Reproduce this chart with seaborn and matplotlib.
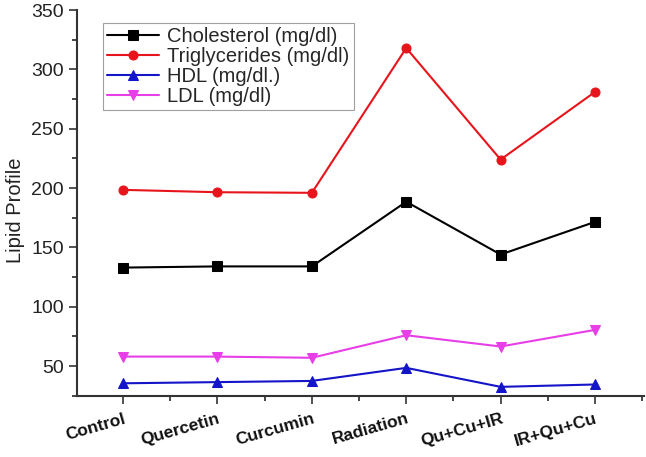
import matplotlib
matplotlib.use("Agg")
import matplotlib.pyplot as plt
from matplotlib.ticker import MultipleLocator
import seaborn as sns
import pandas as pd

groups = ["Control", "Quercetin", "Curcumin", "Radiation", "Qu+Cu+IR", "IR+Qu+Cu"]
cholesterol = [133, 134, 134, 188.5, 144, 171.5]
triglycerides = [198.5, 196.5, 196, 318, 224, 281]
hdl = [35.5, 36.5, 37.5, 48.5, 32.5, 34.5]
ldl = [58, 58, 57, 76, 66.5, 80.5]
series_names = ["Cholesterol (mg/dl)", "Triglycerides (mg/dl)", "HDL (mg/dl.)", "LDL (mg/dl)"]
series_values = [cholesterol, triglycerides, hdl, ldl]

colors = ["#000000", "#e8141b", "#1414c8", "#e83ee8"]
markers = ["s", "o", "^", "v"]

sns.set_style("ticks")
plt.rcParams["font.family"] = ["Liberation Sans", "DejaVu Sans"]

fig = plt.figure(figsize=(6.46, 4.57), dpi=100)
ax = fig.add_axes([0.119, 0.134, 0.878, 0.844])

rows = []
for name, vals in zip(series_names, series_values):
    for i, v in enumerate(vals):
        rows.append({"x": i, "value": v, "series": name})
df = pd.DataFrame(rows)

for name, c, m in zip(series_names, colors, markers):
    sub = df[df["series"] == name]
    sns.lineplot(data=sub, x="x", y="value", ax=ax, color=c, marker=m,
                 markersize=6.5, markeredgecolor=c, linewidth=1.5, label=name)

ax.set_xlim(-0.49, 5.52)
ax.set_ylim(25, 350)
ax.set_xticks(range(len(groups)))
ax.set_xticklabels(groups, rotation=16, fontweight="bold", fontsize=12.5,
                   ha="right", rotation_mode="anchor")
ax.xaxis.set_minor_locator(MultipleLocator(0.5))
ax.yaxis.set_major_locator(MultipleLocator(50))
ax.yaxis.set_minor_locator(MultipleLocator(25))
ax.tick_params(axis="y", labelsize=14, colors="#333333", labelcolor="#222222")
ax.tick_params(axis="x", colors="#333333", labelcolor="#111111", pad=5)
ax.tick_params(which="major", length=6, width=1.2, direction="out")
ax.tick_params(which="minor", length=3.5, width=1.2, direction="out")
ax.set_xlabel("")
ax.set_ylabel("Lipid Profile", fontsize=14.5, color="#222222")
ax.yaxis.set_label_coords(-0.092, 0.48)
for s in ["top", "right"]:
    ax.spines[s].set_visible(False)
for s in ["left", "bottom"]:
    ax.spines[s].set_linewidth(1.5)
    ax.spines[s].set_color("#333333")

leg = ax.legend(loc="upper left", bbox_to_anchor=(0.028, 0.993), fontsize=14.5,
                frameon=True, fancybox=False, edgecolor="#888888",
                handlelength=2.6, borderpad=0.2, labelspacing=0.05, handletextpad=0.4)
leg.get_frame().set_linewidth(0.8)

fig.savefig("out.png", dpi=100)
